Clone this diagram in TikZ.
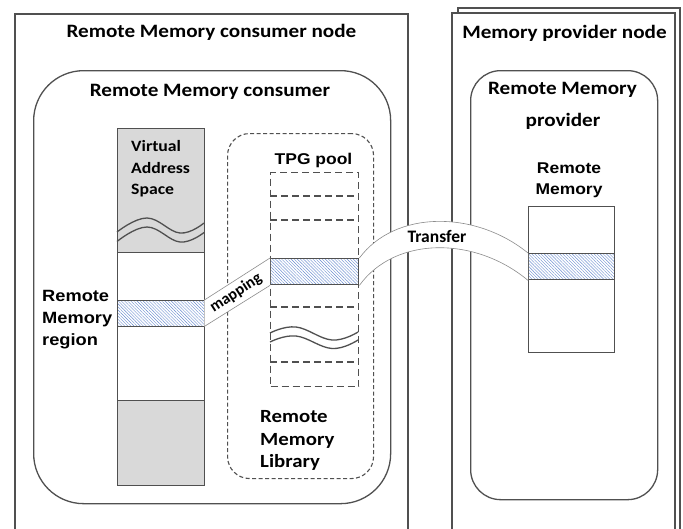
\documentclass[tikz,border=0pt]{standalone}
\usepackage{fontspec}
\usepackage{graphicx}
\usetikzlibrary{patterns.meta}
\newfontfamily\calfont{Carlito}
\newfontfamily\arfont{Liberation Sans}
\newcommand\sx[1]{\scalebox{1.12}[1]{#1}}
\definecolor{ln}{HTML}{505050}
\definecolor{gfill}{HTML}{D9D9D9}
\definecolor{hatch}{HTML}{6A8CD0}
\definecolor{bandln}{HTML}{8C8C8C}
\begin{document}
\begin{tikzpicture}[x=1pt,y=-1pt,
  box/.style={draw=ln, line width=1.6pt, fill=white, inner sep=0pt, anchor=north west},
  rbox/.style={draw=ln, line width=1.3pt, inner sep=0pt, anchor=north west},
  cell/.style={draw=ln, line width=1.4pt, inner sep=0pt, anchor=north west, minimum width=87pt},
  hcell/.style={cell, preaction={fill=white}, pattern={Lines[angle=-45,distance=2.2pt,line width=0.4pt]}, pattern color=hatch},
  dl/.style={draw=ln, line width=1.1pt, dash pattern=on 7pt off 4pt},
  wave/.style={draw=ln, line width=1.3pt},
  band/.style={draw=bandln, line width=0.6pt},
  t/.style={inner sep=0pt, text=black},
  big/.style={t, font=\calfont\bfseries\fontsize{18.9pt}{22pt}\selectfont},
  ar/.style={t, font=\arfont\bfseries\fontsize{15.6pt}{19pt}\selectfont}
]
\useasboundingbox (0,0) rectangle (683,528);
\clip (0,0) rectangle (683,528);
\fill[white] (0,0) rectangle (683,528);

% outer node boxes
\node[box, minimum width=393pt, minimum height=540pt] (cnode) at (14,13) {};
\node[box, minimum width=222pt, minimum height=540pt] (pback) at (457,7) {};
\node[box, minimum width=223pt, minimum height=540pt] (pfront) at (451,12) {};

% rounded boxes
\node[rbox, rounded corners=50pt, minimum width=357pt, minimum height=433pt] (cons) at (33,70) {};
\node[rbox, rounded corners=30pt, minimum width=187pt, minimum height=429pt] (prov) at (470,70) {};
\node[rbox, rounded corners=22pt, line width=1.1pt, dash pattern=on 4pt off 2.5pt, minimum width=146pt, minimum height=345pt] (pool) at (227,133) {};

% virtual address space column
\node[cell, fill=gfill, minimum height=124pt] (vtop) at (117,128) {};
\node[cell, fill=white, minimum height=48pt] (vw1) at (117,252) {};
\node[hcell, minimum height=26pt] (vcell) at (117,300) {};
\node[cell, fill=white, minimum height=74pt] (vw2) at (117,326) {};
\node[cell, fill=gfill, minimum height=85pt] (vbot) at (117,400) {};
\draw[wave] plot[smooth, tension=0.7] coordinates {(117,232) (147,218) (180,233) (204,223)};
\draw[wave] plot[smooth, tension=0.7] coordinates {(117,241.5) (147,227) (180,242) (204,232.5)};

% TPG pool column
\node[cell, dl, minimum width=88pt, minimum height=214pt] (tcol) at (270,172) {};
\draw[dl] (270,196) -- (358,196);
\draw[dl] (270,220) -- (358,220);
\draw[dl] (270,307) -- (358,307);
\draw[dl] (270,362) -- (358,362);
\node[hcell, minimum width=88pt, minimum height=26pt] (tcell) at (270,258) {};
\draw[wave] plot[smooth, tension=0.7] coordinates {(270,333) (296,327) (332,340) (358,332)};
\draw[wave] plot[smooth, tension=0.7] coordinates {(270,342) (296,336) (332,348.5) (358,340)};

% remote memory column (provider)
\node[cell, fill=white, minimum width=86pt, minimum height=146pt] (pcol) at (528,206) {};
\node[hcell, minimum width=86pt, minimum height=26pt] (pcell) at (528,253) {};

% mapping band
\fill[white] (vcell.north east) -- (tcell.north west) -- (tcell.south west) -- (vcell.south east) -- cycle;
\draw[band] (vcell.north east) -- (tcell.north west);
\draw[band] (vcell.south east) -- (tcell.south west);

% transfer band
\fill[white] (tcell.north east) .. controls (395,210) and (475,210) .. (pcell.north west)
  -- (pcell.south west) .. controls (475,236) and (395,236) .. (tcell.south east) -- cycle;
\draw[band] (tcell.north east) .. controls (395,210) and (475,210) .. (pcell.north west);
\draw[band] (tcell.south east) .. controls (395,236) and (475,236) .. (pcell.south west);

% labels
\node[big, anchor=base] (lcnode) at (211.5,37) {\sx{Remote Memory consumer node}};
\node[big, anchor=base] (lcons) at (210,96) {\sx{Remote Memory consumer}};
\node[big, anchor=base] (lpnode) at (564.5,38) {\sx{Memory provider node}};
\node[big, anchor=base] (lprov1) at (562.5,94) {\sx{Remote Memory}};
\node[big, anchor=base] (lprov2) at (563,126) {\sx{provider}};

\node[ar, anchor=base] (lrm1) at (569,173) {\sx{Remote}};
\node[ar, anchor=base] (lrm2) at (569,194) {\sx{Memory}};

\node[t, font=\calfont\bfseries\fontsize{15.8pt}{19pt}\selectfont, anchor=base west] (lv1) at (131,151) {\sx{Virtual}};
\node[t, font=\calfont\bfseries\fontsize{15.8pt}{19pt}\selectfont, anchor=base west] (lv2) at (131,173) {\sx{Address}};
\node[t, font=\calfont\bfseries\fontsize{15.8pt}{19pt}\selectfont, anchor=base west] (lv3) at (131,194) {\sx{Space}};

\node[ar, anchor=base] (ltpg) at (313.5,164) {\sx{TPG pool}};

\node[ar, font=\arfont\bfseries\fontsize{16.3pt}{19pt}\selectfont, anchor=base west] (lr1) at (42,301) {\sx{Remote}};
\node[ar, font=\arfont\bfseries\fontsize{16.3pt}{19pt}\selectfont, anchor=base west] (lr2) at (42,323) {\sx{Memory}};
\node[ar, font=\arfont\bfseries\fontsize{16.3pt}{19pt}\selectfont, anchor=base west] (lr3) at (42,345) {\sx{region}};

\node[big, font=\calfont\bfseries\fontsize{18.6pt}{22pt}\selectfont, anchor=base west] (ll1) at (260,422) {\sx{Remote}};
\node[big, font=\calfont\bfseries\fontsize{18.6pt}{22pt}\selectfont, anchor=base west] (ll2) at (260,445) {\sx{Memory}};
\node[big, font=\calfont\bfseries\fontsize{18.6pt}{22pt}\selectfont, anchor=base west] (ll3) at (260,467) {\sx{Library}};

\node[t, font=\calfont\bfseries\fontsize{17.5pt}{20pt}\selectfont, anchor=base] (ltr) at (437,242) {Transfer};
\node[t, font=\calfont\bfseries\fontsize{16pt}{18pt}\selectfont, rotate=33] (lmap) at (236,293) {mapping};
\end{tikzpicture}
\end{document}
